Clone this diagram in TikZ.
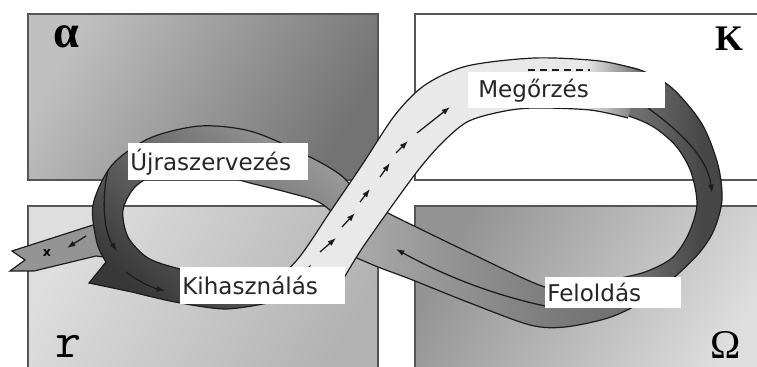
\documentclass[tikz,border=0pt]{standalone}
\usepackage{fontspec}
\usetikzlibrary{arrows.meta}
\newfontfamily\tagfont{DejaVu Sans}
\newfontfamily\capfont{Liberation Serif}

\definecolor{acink}{HTML}{1C1C1C}
\definecolor{acrim}{HTML}{555555}
% light ribbon, darkening only at its far end
\pgfdeclarehorizontalshading{acfade}{100bp}{color(0bp)=(black!8); color(68bp)=(black!9); color(75bp)=(black!56); color(100bp)=(black!56)}
% back ribbon, pale near the crossing, dark round the right bend
\pgfdeclarehorizontalshading{acback}{100bp}{color(0bp)=(black!33); color(25bp)=(black!33); color(53bp)=(black!52); color(64bp)=(black!57); color(72bp)=(black!72); color(100bp)=(black!76)}

\tikzset{
  ac panel/.style={draw=acrim, line width=0.45mm},
  ac edge/.style={draw=acink, line width=0.3mm},
  ac flow/.style={-{Latex[length=2.1mm,width=1.5mm]}, draw=acink, line width=0.32mm},
  ac dash/.style={draw=acink, line width=0.32mm, dash pattern=on 1.8mm off 1.2mm},
  ac tag/.style={fill=white, anchor=north west, align=left, inner ysep=0pt,
    inner xsep=0.5mm, text=black!85, font=\tagfont\fontsize{16.4}{19}\selectfont},
  ac mark/.style={text=black, inner sep=0pt}
}

\begin{document}
\begin{tikzpicture}[x=0.25mm, y=-0.25mm]
  \useasboundingbox (0,0) rectangle (757,367);
  \clip (0,0) rectangle (757,367);
  \fill[white] (0,0) rectangle (757,367);

  % four quadrants
  \shade[ac panel, left color=black!25, right color=black!55, shading angle=60] (28,14) rectangle (378,180);
  \filldraw[ac panel, fill=white] (415,14) rectangle (770,180);
  \shade[ac panel, left color=black!13, right color=black!30, shading angle=60] (28,206) rectangle (378,380);
  \shade[ac panel, left color=black!42, right color=black!13, shading angle=60] (415,206) rectangle (770,380);

  % side branch leaving the loop
  \filldraw[ac edge, fill=black!42] (112,222) -- (93,225) -- (12,251) -- (25,260) -- (10,271)
    -- (34,271) -- (96,256) -- (112,258) -- cycle;

  % back ribbon: release, then back towards the crossing
  \shade[shading=acback]
    plot[smooth] coordinates {(600,62) (640,70) (672,88) (702,124) (718,165) (722,200) (714,230)
      (700,252) (678,274) (651,297) (611,317) (565,327) (530,325) (470,303) (410,279) (378,267) (350,255)}
    -- plot[smooth] coordinates {(365,200) (388,213) (410,224) (470,253) (545,287) (580,286) (611,280)
      (645,272) (672,258) (688,235) (697,205) (691,172) (676,146) (652,126) (622,114) (590,110)}
    -- cycle;
  \draw[ac edge] plot[smooth] coordinates {(600,62) (640,70) (672,88) (702,124) (718,165) (722,200) (714,230)
      (700,252) (678,274) (651,297) (611,317) (565,327) (530,325) (470,303) (410,279) (378,267) (350,255)};
  \draw[ac edge] plot[smooth] coordinates {(365,200) (388,213) (410,224) (470,253) (545,287) (580,286) (611,280)
      (645,272) (672,258) (688,235) (697,205) (691,172) (676,146) (652,126) (622,114) (590,110)};

  % left loop with the wide arrow head at its foot
  \shade[top color=black!38, bottom color=black!78, shading angle=-40]
    plot[smooth] coordinates {(372,215) (343,177) (300,152) (250,131) (200,126) (150,138) (112,165)
      (93,205) (97,243) (106,262)}
    -- (89,283)
    -- plot[smooth] coordinates {(132,292) (175,302) (225,309) (268,303)}
    -- plot[smooth] coordinates {(262,284) (225,278) (180,269) (148,258) (128,237) (123,210) (136,186)
      (165,171) (210,172) (250,183) (290,193) (322,204) (360,238)}
    -- cycle;
  \draw[ac edge] plot[smooth] coordinates {(372,215) (343,177) (300,152) (250,131) (200,126) (150,138) (112,165)
      (93,205) (97,243) (106,262)}
    -- (89,283)
    -- plot[smooth] coordinates {(132,292) (175,302) (225,309) (268,303)};
  \draw[ac edge] plot[smooth] coordinates {(262,284) (225,278) (180,269) (148,258) (128,237) (123,210) (136,186)
      (165,171) (210,172) (250,183) (290,193) (322,204) (360,238)};

  % front ribbon, growth up to the top of the right loop
  \shade[shading=acfade]
    plot[smooth] coordinates {(255,300) (297,260) (330,212) (362,165) (395,115) (425,85) (467,66)
      (535,58) (600,61) (640,70)}
    -- plot[smooth] coordinates {(628,118) (590,110) (533,108) (500,112) (467,122) (440,145) (413,177)
      (363,247) (340,285)}
    -- (300,300) -- cycle;
  \draw[ac edge] plot[smooth] coordinates {(255,300) (297,260) (330,212) (362,165) (395,115) (425,85) (467,66)
      (535,58) (600,61) (640,70)};
  \draw[ac edge] plot[smooth] coordinates {(628,118) (590,110) (533,108) (500,112) (467,122) (440,145) (413,177)
      (363,247) (340,285)};

  % flow arrows
  \foreach \xa/\ya/\xb/\yb in {303/280/311/264, 320/252/336/238, 342/227/355/213, 360/202/370/189,
      380/177/390/163, 396/153/408/141, 417/133/450/107}
    \draw[ac flow] (\xa,\ya) -- (\xb,\yb);
  \draw[ac dash] (528,70) -- (590,70);
  \draw[ac flow] (648,108) .. controls (685,135) and (708,160) .. (712,193);
  \draw[ac flow] (545,306) .. controls (480,292) and (430,268) .. (396,249);
  \draw[ac flow] (108,170) .. controls (101,200) and (104,232) .. (117,251);
  \draw[ac flow] (126,272) .. controls (138,281) and (150,287) .. (165,291);
  \draw[ac flow] (86,236) -- (67,248);

  % phase names
  \node[ac tag, text width=44mm, minimum height=9.25mm] (reorg) at (128,143) {Újraszervezés};
  \node[ac tag, inner xsep=2.5mm, text width=44.25mm, minimum height=9mm] (conserv) at (468,72) {Megőrzés};
  \node[ac tag, text width=40.25mm, minimum height=9.25mm] (exploit) at (180,267) {Kihasználás};
  \node[ac tag, text width=33mm, minimum height=7.75mm] (release) at (545,277) {Feloldás};

  % quadrant letters
  \node[ac mark, font=\capfont\bfseries\fontsize{33}{35}\selectfont] (alpha) at (66,37) {α};
  \node[ac mark, font=\capfont\bfseries\fontsize{25.6}{28}\selectfont] (kappa) at (729,39) {K};
  \node[ac mark, font=\ttfamily\fontsize{36}{38}\selectfont] (rmark) at (69,346) {r};
  \node[ac mark, font=\capfont\fontsize{29}{31}\selectfont] (omega) at (726,345) {Ω};
  \node[ac mark, font=\tagfont\bfseries\fontsize{9}{10}\selectfont] (xmark) at (47,253) {x};
\end{tikzpicture}
\end{document}
